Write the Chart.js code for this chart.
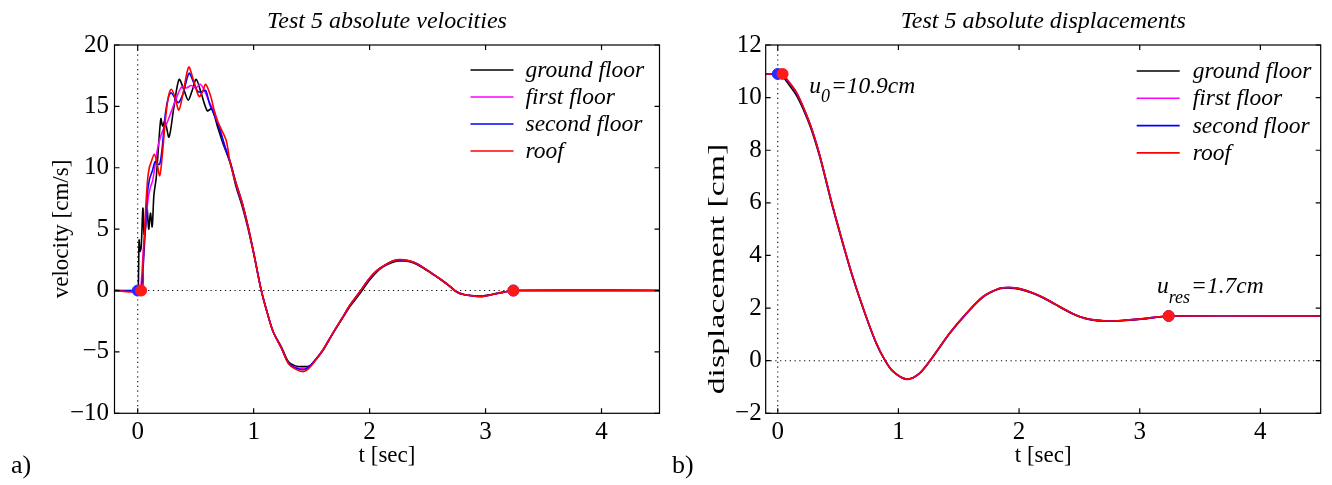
<!DOCTYPE html>
<html>
<head>
<meta charset="utf-8">
<script src="https://cdn.jsdelivr.net/npm/chart.js@4.4.1/dist/chart.umd.min.js"></script>
<style>
  html, body { margin: 0; padding: 0; background: #fff; }
  #wrap { position: relative; width: 1332px; height: 485px; }
  canvas { position: absolute; top: 0; }
  #velChart { left: 0; }
  #dispChart { left: 666px; }
</style>
</head>
<body>
<div id="wrap">
  <canvas id="velChart" width="666" height="485"></canvas>
  <canvas id="dispChart" width="666" height="485"></canvas>
</div>
<script>
const seriesNames = ['ground floor', 'first floor', 'second floor', 'roof'];
const seriesColors = ['#000000', '#ff00ff', '#0000ff', '#ff0000'];
const timeTicks = [0, 1, 2, 3, 4];
const velTicks = [-10, -5, 0, 5, 10, 15, 20];
const dispTicks = [-2, 0, 2, 4, 6, 8, 10, 12];

// absolute velocities [cm/s], first 0.8 s per floor
const velGroundT = [-0.2, 0, 0.005, 0.012, 0.02, 0.03, 0.045, 0.055, 0.065, 0.08, 0.095, 0.11, 0.125, 0.14, 0.16, 0.18, 0.2, 0.215, 0.235, 0.27, 0.31, 0.357, 0.4, 0.436, 0.47, 0.505, 0.55, 0.6, 0.64, 0.69, 0.735, 0.8];
const velGroundV = [0, 0, 0, 4.1, 3.2, 3.5, 6.7, 4.6, 4.8, 6.8, 5.0, 6.3, 5.2, 7.8, 9.2, 11.8, 14.0, 13.4, 13.8, 12.5, 14.8, 17.2, 16.3, 15.5, 16.3, 17.2, 16.0, 14.65, 14.8, 13.3, 12.0, 10.3];
const velFirstT = [-0.2, 0.02, 0.03, 0.05, 0.07, 0.09, 0.11, 0.13, 0.15, 0.17, 0.2, 0.22, 0.25, 0.29, 0.33, 0.38, 0.42, 0.46, 0.5, 0.54, 0.58, 0.62, 0.66, 0.7, 0.75, 0.8];
const velFirstV = [0, 0, 0.5, 3.5, 5.5, 7.5, 8.4, 9.0, 10.2, 11.5, 12.6, 13.1, 13.6, 14.6, 15.6, 16.6, 16.5, 16.7, 16.5, 16.8, 16.2, 15.3, 14.6, 13.5, 11.8, 10.4];
const velSecondT = [-0.2, 0.02, 0.035, 0.06, 0.08, 0.1, 0.128, 0.15, 0.17, 0.19, 0.21, 0.24, 0.27, 0.29, 0.32, 0.35, 0.39, 0.443, 0.48, 0.52, 0.555, 0.586, 0.62, 0.66, 0.7, 0.75, 0.8];
const velSecondV = [0, 0, 0.3, 4.0, 7.5, 9.0, 9.8, 10.5, 10.3, 10.3, 11.5, 14.5, 15.9, 16.1, 15.7, 15.3, 16.0, 17.7, 17.0, 16.2, 16.2, 16.3, 15.2, 14.3, 13.3, 11.8, 10.4];
const velRoofT = [-0.2, 0.03, 0.045, 0.065, 0.085, 0.1, 0.114, 0.143, 0.165, 0.19, 0.21, 0.24, 0.265, 0.29, 0.32, 0.355, 0.39, 0.44, 0.485, 0.53, 0.56, 0.586, 0.63, 0.678, 0.72, 0.764, 0.8];
const velRoofV = [0, 0, 2.0, 6.0, 9.0, 10.0, 10.4, 11.1, 10.5, 9.35, 10.8, 14.0, 15.8, 16.4, 15.8, 14.7, 16.0, 18.2, 17.0, 15.8, 16.2, 16.8, 15.8, 14.0, 13.15, 12.2, 10.3];

// velocities after 0.8 s
const velTailT = [0.85, 0.9, 0.95, 1.0, 1.066, 1.12, 1.17, 1.24, 1.3, 1.36, 1.43, 1.48, 1.54, 1.6, 1.65, 1.7, 1.76, 1.83, 1.9, 2.0, 2.06, 2.12, 2.2, 2.25, 2.3, 2.38, 2.45, 2.53, 2.6, 2.68, 2.75, 2.82, 2.9, 2.97, 3.05, 3.15, 3.24, 4.5];
const velGroundTail = [8.4, 6.9, 5.1, 3.0, 0, -1.9, -3.4, -4.6, -5.8, -6.15, -6.2, -6.15, -5.6, -4.85, -4.05, -3.25, -2.35, -1.3, -0.45, 0.85, 1.5, 1.95, 2.3, 2.4, 2.4, 2.25, 1.9, 1.42, 0.98, 0.42, -0.12, -0.35, -0.42, -0.45, -0.32, -0.13, 0, 0];
const velFirstTail = [8.6, 7.1, 5.25, 3.1, 0, -1.9, -3.4, -4.7, -5.9, -6.25, -6.35, -6.2, -5.55, -4.8, -4.0, -3.2, -2.3, -1.2, -0.3, 1.0, 1.6, 2.0, 2.4, 2.5, 2.48, 2.3, 1.95, 1.45, 1.0, 0.45, -0.1, -0.35, -0.45, -0.48, -0.35, -0.15, 0, 0];
const velSecondTail = [8.7, 7.2, 5.3, 3.1, 0, -1.9, -3.4, -4.7, -5.9, -6.3, -6.45, -6.2, -5.55, -4.8, -4.0, -3.2, -2.3, -1.2, -0.3, 1.0, 1.6, 2.0, 2.4, 2.5, 2.48, 2.3, 1.95, 1.45, 1.0, 0.45, -0.1, -0.35, -0.45, -0.48, -0.35, -0.15, 0, 0];
const velRoofTail = [8.7, 7.2, 5.3, 3.1, 0, -1.9, -3.4, -4.7, -5.95, -6.4, -6.6, -6.3, -5.6, -4.8, -4.0, -3.2, -2.3, -1.2, -0.3, 1.0, 1.6, 2.0, 2.4, 2.52, 2.5, 2.3, 1.95, 1.45, 1.0, 0.45, -0.1, -0.35, -0.45, -0.5, -0.35, -0.15, 0, 0];

// absolute displacements [cm]
const dispT = [-0.1, 0, 0.04, 0.083, 0.153, 0.207, 0.277, 0.346, 0.388, 0.443, 0.526, 0.622, 0.733, 0.817, 0.886, 0.954, 1.066, 1.176, 1.286, 1.425, 1.563, 1.7, 1.84, 1.92, 2.0, 2.1, 2.2, 2.3, 2.4, 2.5, 2.6, 2.725, 2.85, 3.057, 3.24, 4.5];
const dispGround = [10.9, 10.9, 10.8, 10.55, 10.1, 9.6, 8.8, 7.78, 7.04, 6.03, 4.65, 3.15, 1.65, 0.65, 0.03, -0.41, -0.7, -0.48, 0.14, 1.03, 1.78, 2.41, 2.73, 2.76, 2.72, 2.58, 2.38, 2.13, 1.88, 1.67, 1.55, 1.5, 1.52, 1.6, 1.7, 1.7];
const dispFirst = [10.9, 10.9, 10.88, 10.63, 10.19, 9.67, 8.86, 7.83, 7.08, 6.07, 4.68, 3.17, 1.67, 0.66, 0.04, -0.4, -0.71, -0.48, 0.15, 1.04, 1.79, 2.42, 2.75, 2.78, 2.74, 2.6, 2.4, 2.15, 1.9, 1.68, 1.56, 1.51, 1.53, 1.61, 1.7, 1.7];
const dispSecond = [10.9, 10.9, 10.89, 10.64, 10.2, 9.68, 8.87, 7.84, 7.09, 6.08, 4.69, 3.18, 1.67, 0.66, 0.04, -0.4, -0.7, -0.47, 0.16, 1.05, 1.8, 2.43, 2.75, 2.78, 2.74, 2.6, 2.4, 2.15, 1.9, 1.68, 1.56, 1.51, 1.53, 1.61, 1.7, 1.7];
const dispRoof = [10.9, 10.9, 10.9, 10.66, 10.22, 9.7, 8.88, 7.85, 7.1, 6.09, 4.7, 3.19, 1.68, 0.67, 0.04, -0.4, -0.7, -0.47, 0.16, 1.05, 1.8, 2.43, 2.75, 2.78, 2.74, 2.6, 2.4, 2.15, 1.9, 1.68, 1.56, 1.51, 1.53, 1.61, 1.7, 1.7];

// start / end markers [t, value]
const velMarksBlue = [[0, 0], [3.24, 0]];
const velMarksRed = [[0.03, 0], [3.24, 0]];
const dispMarksBlue = [[0, 10.9], [3.24, 1.7]];
const dispMarksRed = [[0.04, 10.9], [3.24, 1.7]];

const serif = '"Liberation Serif", "Times New Roman", serif';

function pts(t, v) { return t.map((x, i) => ({x: x, y: v[i]})); }
function marks(list) { return list.map(p => ({x: p[0], y: p[1]})); }
function minus(v) { return String(v).replace('-', '\u2212'); }

function lineSet(i, data) {
  return {
    label: seriesNames[i], data: data, borderColor: seriesColors[i], backgroundColor: seriesColors[i],
    borderWidth: 1.6, pointRadius: 0, tension: 0.3, order: 5 - i
  };
}
function markSet(color, data, order) {
  return {
    label: 'mark', data: data, borderColor: color, backgroundColor: color, showLine: false,
    pointRadius: 5.5, pointBorderWidth: 1, order: order
  };
}

// box, inward ticks, dotted zero lines, titles, legend, notes
const frame = {
  id: 'frame',
  beforeDatasetsDraw(chart) {
    const {ctx, chartArea: a, scales: {x, y}} = chart;
    const x0 = x.getPixelForValue(0), y0 = y.getPixelForValue(0);
    ctx.save();
    ctx.strokeStyle = '#000';
    ctx.lineWidth = 1.1;
    ctx.setLineDash([1.2, 3.6]);
    ctx.beginPath();
    ctx.moveTo(x0, a.top); ctx.lineTo(x0, a.bottom);
    ctx.moveTo(a.left, y0); ctx.lineTo(a.right, y0);
    ctx.stroke();
    ctx.restore();
  },
  afterDraw(chart, args, o) {
    const {ctx, chartArea: a, scales: {x, y}} = chart;
    ctx.save();
    ctx.strokeStyle = '#000';
    ctx.lineWidth = 1.2;
    ctx.strokeRect(a.left, a.top, a.right - a.left, a.bottom - a.top);
    ctx.beginPath();
    x.ticks.forEach(t => {
      const p = x.getPixelForValue(t.value);
      ctx.moveTo(p, a.bottom); ctx.lineTo(p, a.bottom - 5);
      ctx.moveTo(p, a.top); ctx.lineTo(p, a.top + 5);
    });
    y.ticks.forEach(t => {
      const p = y.getPixelForValue(t.value);
      ctx.moveTo(a.left, p); ctx.lineTo(a.left + 5, p);
      ctx.moveTo(a.right, p); ctx.lineTo(a.right - 5, p);
    });
    ctx.stroke();

    ctx.fillStyle = '#000';
    ctx.textAlign = 'center';
    ctx.textBaseline = 'alphabetic';
    ctx.font = 'italic 24px ' + serif;
    ctx.fillText(o.title, (a.left + a.right) / 2, 28);

    ctx.font = '23px ' + serif;
    ctx.fillText('t [sec]', (a.left + a.right) / 2, 462);

    ctx.save();
    ctx.translate(o.yTitleX, o.yTitleY);
    ctx.rotate(-Math.PI / 2);
    ctx.scale(o.yTitleStretch, 1);
    ctx.textBaseline = 'middle';
    ctx.fillText(o.yTitle, 0, 0);
    ctx.restore();

    // legend
    ctx.font = 'italic 23.5px ' + serif;
    ctx.textAlign = 'left';
    ctx.textBaseline = 'middle';
    ctx.lineWidth = 1.6;
    seriesNames.forEach((name, i) => {
      const yy = o.legend.top + i * o.legend.step;
      ctx.strokeStyle = seriesColors[i];
      ctx.beginPath();
      ctx.moveTo(a.right + o.legend.lineFrom, yy);
      ctx.lineTo(a.right + o.legend.lineTo, yy);
      ctx.stroke();
      ctx.fillText(name, a.right + o.legend.text, yy + 1);
    });

    // annotations u0 / ures
    ctx.textBaseline = 'alphabetic';
    (o.notes || []).forEach(n => {
      let px = x.getPixelForValue(n.t);
      const py = y.getPixelForValue(n.v);
      ctx.font = 'italic 23.5px ' + serif;
      ctx.fillText(n.main, px, py);
      px += ctx.measureText(n.main).width;
      ctx.font = 'italic 18px ' + serif;
      ctx.fillText(n.sub, px, py + 9.5);
      px += ctx.measureText(n.sub).width + 1;
      ctx.font = 'italic 23.5px ' + serif;
      ctx.fillText(n.rest, px, py);
    });

    ctx.font = '26px ' + serif;
    ctx.fillText(o.letter, o.letterX, 473);
    ctx.restore();
  }
};

function makeChart(id, datasets, cfg) {
  return new Chart(document.getElementById(id), {
    type: 'line',
    data: {datasets: datasets},
    plugins: [frame],
    options: {
      responsive: false,
      animation: false,
      devicePixelRatio: 1,
      layout: {padding: {top: 45, right: cfg.padRight, bottom: 0, left: 0}},
      plugins: {legend: {display: false}, tooltip: {enabled: false}, frame: cfg.frame},
      scales: {
        x: {
          type: 'linear', min: cfg.xMin, max: 4.5,
          grid: {display: false, drawTicks: false, tickLength: 0}, border: {display: false},
          afterBuildTicks: s => { s.ticks = timeTicks.map(v => ({value: v})); },
          afterFit: s => { s.height = 71.7; },
          ticks: {color: '#000', padding: 4.5, font: {family: serif, size: 25}, callback: v => minus(v)}
        },
        y: {
          type: 'linear', min: cfg.yMin, max: cfg.yMax,
          grid: {display: false, drawTicks: false, tickLength: 0}, border: {display: false},
          afterBuildTicks: s => { s.ticks = cfg.yTicks.map(v => ({value: v})); },
          afterFit: s => { s.width = cfg.yWidth; },
          ticks: {color: '#000', padding: cfg.yPad, font: {family: serif, size: 25}, callback: v => minus(v)}
        }
      }
    }
  });
}

makeChart('velChart', [
  lineSet(0, pts(velGroundT.concat(velTailT), velGroundV.concat(velGroundTail))),
  lineSet(1, pts(velFirstT.concat(velTailT), velFirstV.concat(velFirstTail))),
  lineSet(2, pts(velSecondT.concat(velTailT), velSecondV.concat(velSecondTail))),
  lineSet(3, pts(velRoofT.concat(velTailT), velRoofV.concat(velRoofTail))),
  markSet('#2a2aff', marks(velMarksBlue), 1),
  markSet('#ff1a1a', marks(velMarksRed), 0)
], {
  xMin: -0.2, yMin: -10, yMax: 20, yTicks: velTicks, yWidth: 114.5, yPad: 5.5, padRight: 4,
  frame: {
    title: 'Test 5 absolute velocities', yTitle: 'velocity [cm/s]',
    yTitleX: 62, yTitleY: 229, yTitleStretch: 1,
    letter: 'a)', letterX: 11,
    legend: {top: 70, step: 27, lineFrom: -189, lineTo: -146, text: -134}
  }
});

makeChart('dispChart', [
  lineSet(0, pts(dispT, dispGround)),
  lineSet(1, pts(dispT, dispFirst)),
  lineSet(2, pts(dispT, dispSecond)),
  lineSet(3, pts(dispT, dispRoof)),
  markSet('#2a2aff', marks(dispMarksBlue), 1),
  markSet('#ff1a1a', marks(dispMarksRed), 0)
], {
  xMin: -0.1, yMin: -2, yMax: 12, yTicks: dispTicks, yWidth: 99.7, yPad: 4, padRight: 11.3,
  frame: {
    title: 'Test 5 absolute displacements', yTitle: 'displacement [cm]',
    yTitleX: 52, yTitleY: 269, yTitleStretch: 1.47,
    letter: 'b)', letterX: 6,
    legend: {top: 71, step: 27.3, lineFrom: -184, lineTo: -141, text: -128},
    notes: [
      {t: 0.26, v: 10.18, main: 'u', sub: '0', rest: '=10.9cm'},
      {t: 3.143, v: 2.57, main: 'u', sub: 'res', rest: '=1.7cm'}
    ]
  }
});
</script>
</body>
</html>
